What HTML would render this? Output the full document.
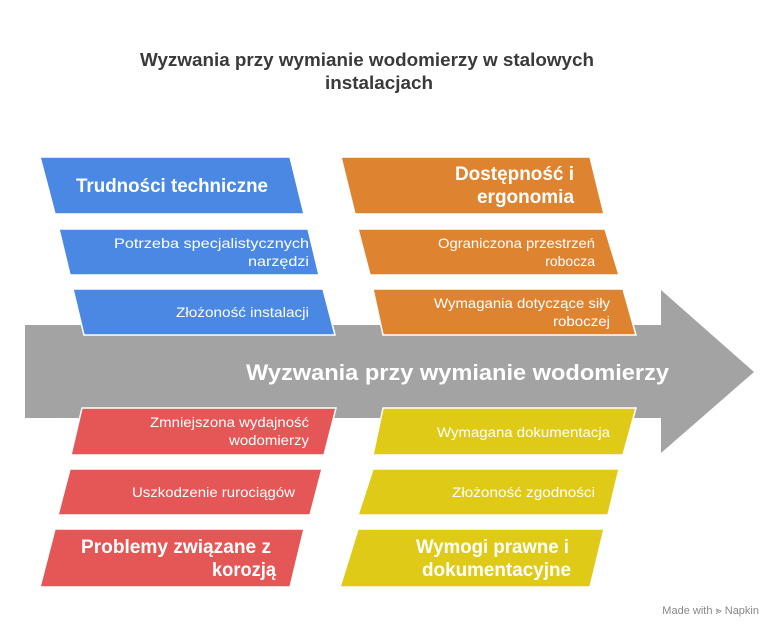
<!DOCTYPE html>
<html><head><meta charset="utf-8"><style>
body{margin:0;background:#fff;}
svg{display:block;font-family:"Liberation Sans",sans-serif;}
.t{fill:#fff;font-size:14px;}
.h{fill:#fff;font-size:19px;font-weight:bold;}
</style></head><body>
<svg width="780" height="636" viewBox="0 0 780 636">
<text x="140" y="66" font-size="18" font-weight="bold" fill="#3a3a3a" textLength="454" lengthAdjust="spacingAndGlyphs">Wyzwania przy wymianie wodomierzy w stalowych</text>
<text x="325" y="89" font-size="18" font-weight="bold" fill="#3a3a3a" textLength="108" lengthAdjust="spacingAndGlyphs">instalacjach</text>
<polygon points="25,325 661,325 661,290 754,372 661,453 661,418 25,418" fill="#a3a3a3"/>
<g stroke="#fff" stroke-width="1.5">
<polygon points="40,157 290,157 304,214 55,214" fill="#4a88e4"/>
<polygon points="59,229 308,229 319,275 70,275" fill="#4a88e4"/>
<polygon points="73,289 323,289 335,335 84,335" fill="#4a88e4"/>
<polygon points="82,408 336,408 324,455 71,455" fill="#e45756"/>
<polygon points="70,469 322,469 310,515 58,515" fill="#e45756"/>
<polygon points="55,529 304,529 290,587 40,587" fill="#e45756"/>
<polygon points="341,157 590,157 604,214 355,214" fill="#de8431"/>
<polygon points="358,229 605,229 619,275 370,275" fill="#de8431"/>
<polygon points="373,289 623,289 636,335 383,335" fill="#de8431"/>
<polygon points="383,408 636,408 623,455 373,455" fill="#dfcb17"/>
<polygon points="373,469 619,469 608,515 358,515" fill="#dfcb17"/>
<polygon points="358,529 604,529 590,587 340,587" fill="#dfcb17"/>
</g>
<text class="h" x="76" y="192" textLength="192" lengthAdjust="spacingAndGlyphs">Trudności techniczne</text>
<text class="t" x="114" y="248" textLength="195" lengthAdjust="spacingAndGlyphs">Potrzeba specjalistycznych</text>
<text class="t" x="248" y="266" textLength="61" lengthAdjust="spacingAndGlyphs">narzędzi</text>
<text class="t" x="176" y="317" textLength="133" lengthAdjust="spacingAndGlyphs">Złożoność instalacji</text>
<text class="t" x="150" y="427" textLength="159" lengthAdjust="spacingAndGlyphs">Zmniejszona wydajność</text>
<text class="t" x="229" y="445" textLength="80" lengthAdjust="spacingAndGlyphs">wodomierzy</text>
<text class="t" x="132" y="497" textLength="163" lengthAdjust="spacingAndGlyphs">Uszkodzenie rurociągów</text>
<text class="h" x="81" y="553" textLength="190" lengthAdjust="spacingAndGlyphs">Problemy związane z</text>
<text class="h" x="212" y="576" textLength="64" lengthAdjust="spacingAndGlyphs">korozją</text>
<text class="h" x="455" y="180" textLength="119" lengthAdjust="spacingAndGlyphs">Dostępność i</text>
<text class="h" x="477" y="203" textLength="97" lengthAdjust="spacingAndGlyphs">ergonomia</text>
<text class="t" x="438" y="248" textLength="157" lengthAdjust="spacingAndGlyphs">Ograniczona przestrzeń</text>
<text class="t" x="595" y="266" text-anchor="end">robocza</text>
<text class="t" x="434" y="308" textLength="176" lengthAdjust="spacingAndGlyphs">Wymagania dotyczące siły</text>
<text class="t" x="553" y="326" textLength="57" lengthAdjust="spacingAndGlyphs">roboczej</text>
<text x="246" y="380" font-size="22" font-weight="bold" fill="#fff" textLength="423" lengthAdjust="spacingAndGlyphs">Wyzwania przy wymianie wodomierzy</text>
<text class="t" x="437" y="437" textLength="173" lengthAdjust="spacingAndGlyphs">Wymagana dokumentacja</text>
<text class="t" x="452" y="497" textLength="143" lengthAdjust="spacingAndGlyphs">Złożoność zgodności</text>
<text class="h" x="416" y="553" textLength="153" lengthAdjust="spacingAndGlyphs">Wymogi prawne i</text>
<text class="h" x="422" y="576" textLength="149" lengthAdjust="spacingAndGlyphs">dokumentacyjne</text>
<text x="759" y="614" text-anchor="end" font-size="11" fill="#888">Made with ⪢ Napkin</text>
</svg>
</body></html>
